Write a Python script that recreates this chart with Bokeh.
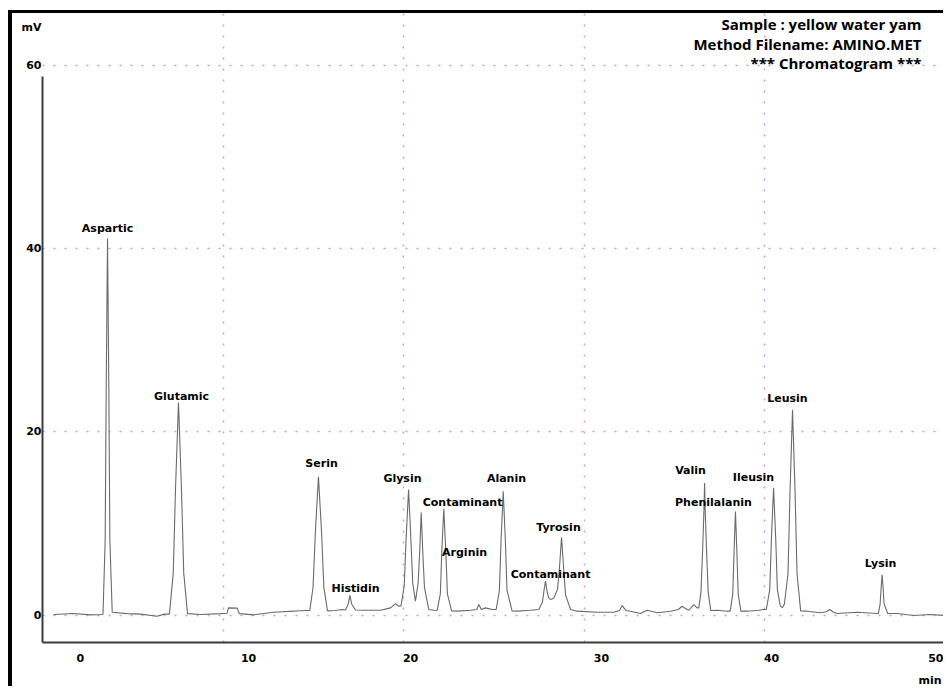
from bokeh.plotting import figure
from bokeh.models import ColumnDataSource, FixedTicker, LinearAxis, Range1d, Label
from bokeh.core.properties import value
from bokeh.embed import file_html
from bokeh.resources import INLINE

# ---- chromatogram trace (retention time [min], signal [mV]) ----
trace_time = [
    0.61, 1.72, 2.66,
    3.35, 3.47, 3.527, 3.60, 3.673, 3.73, 3.86,
    4.69, 5.43, 6.35, 6.75,
    7.03, 7.24, 7.367, 7.53, 7.693, 7.82, 8.03,
    8.75, 9.86, 10.22, 10.30, 10.78, 10.90, 11.70, 12.81, 13.92, 14.50,
    14.80, 14.98, 15.11, 15.28, 15.45, 15.58, 15.78,
    16.20, 16.60,
    16.78, 16.93, 17.02, 17.12, 17.33,
    17.79, 18.72, 19.27, 19.55, 19.73,
    19.85, 20.03, 20.13, 20.27, 20.40, 20.50, 20.65,
    20.80, 20.88, 20.97, 21.06, 21.15, 21.39,
    21.67,
    21.85, 22.03, 22.11, 22.22, 22.33, 22.42, 22.65,
    22.96, 23.70, 24.05, 24.16, 24.30, 24.53, 24.90,
    25.12, 25.30, 25.39, 25.51, 25.63, 25.72, 26.00,
    26.28, 27.02,
    27.48, 27.68, 27.77, 27.85, 27.94, 28.02, 28.13,
    28.30, 28.52, 28.63, 28.74, 28.85, 28.96, 29.24,
    29.60, 30.71, 31.63, 31.95, 32.10, 32.30, 32.56, 33.11, 33.48, 34.04,
    34.77, 35.20, 35.42, 35.60, 35.79, 36.06, 36.25,
    36.34, 36.46, 36.55, 36.63, 36.66, 36.69, 36.77, 36.86, 37.00,
    37.36, 37.91,
    38.08, 38.22, 38.29, 38.37, 38.45, 38.52, 38.67,
    39.02, 39.66, 39.94,
    40.08, 40.27, 40.36, 40.48, 40.60, 40.69, 40.85, 40.97,
    41.08, 41.28, 41.39, 41.53, 41.67, 41.78, 41.98,
    42.34, 43.08, 43.40, 43.59, 43.80, 44.00, 45.11, 46.22,
    46.28, 46.38, 46.43, 46.49, 46.55, 46.60, 46.80,
    47.33, 48.25, 49.17, 50.00,
]
trace_mv = [
    0.05, 0.16, 0.02,
    0.05, 8.2, 24.7, 41.1, 24.7, 8.2, 0.30,
    0.15, 0.10, -0.13, 0.10,
    0.10, 4.6, 13.9, 23.2, 13.9, 4.6, 0.15,
    0.05, 0.15, 0.20, 0.78, 0.75, 0.15, 0.02, 0.30, 0.42, 0.50,
    0.50, 3.0, 9.1, 15.1, 9.1, 3.0, 0.45,
    0.50, 0.60,
    0.55, 1.2, 2.15, 1.2, 0.55,
    0.52, 0.52, 0.78, 1.25, 0.96,
    1.0, 3.2, 8.2, 13.7, 8.2, 3.5, 1.5,
    3.5, 6.7, 11.2, 6.7, 3.0, 0.60,
    0.52,
    0.50, 2.3, 7.0, 11.6, 7.0, 2.3, 0.45,
    0.42, 0.52, 0.60, 1.14, 0.60, 0.78, 0.60,
    0.60, 2.7, 8.1, 13.5, 8.1, 2.7, 0.45,
    0.42, 0.52,
    0.60, 1.4, 2.7, 3.7, 2.6, 1.9, 1.7,
    1.8, 2.8, 5.3, 8.5, 5.3, 2.2, 0.60,
    0.42, 0.30, 0.30, 0.50, 1.03, 0.50, 0.42, 0.16, 0.52, 0.24,
    0.42, 0.60, 0.96, 0.70, 0.52, 1.14, 0.78,
    0.78, 2.5, 7.0, 11.7, 14.4, 11.7, 7.0, 2.5, 0.50,
    0.52, 0.42,
    0.42, 2.3, 6.8, 11.3, 6.8, 2.3, 0.42,
    0.42, 0.52, 0.60,
    0.60, 2.8, 8.3, 13.9, 8.3, 2.8, 1.0, 0.80,
    1.2, 4.5, 13.4, 22.4, 13.4, 4.5, 0.45,
    0.42, 0.24, 0.35, 0.60, 0.30, 0.16, 0.30, 0.16,
    0.16, 1.2, 2.8, 4.4, 2.8, 1.2, 0.16,
    0.16, -0.05, 0.05, -0.05,
]

# ---- peak annotations ----
peak_names = ["Aspartic", "Glutamic", "Serin", "Histidin", "Glysin", "Contaminant",
              "Arginin", "Alanin", "Contaminant", "Tyrosin", "Valin", "Phenilalanin",
              "Ileusin", "Leusin", "Lysin"]
label_time = [3.60, 7.70, 15.45, 17.33, 19.93, 23.26, 23.37, 25.69, 28.13, 28.57,
              35.88, 37.15, 39.37, 41.25, 46.40]
label_mv = [42.24, 23.82, 16.51, 2.89, 14.88, 12.26, 6.81, 14.88, 4.41, 9.54,
            15.75, 12.26, 14.99, 23.60, 5.61]

# ---- axes / header texts ----
x_tick_labels = ["0", "10", "20", "30", "40", "50"]
x_tick_pos = [2.10, 11.41, 20.38, 30.95, 40.37, 49.60]
x_unit_label = "min"
x_unit_pos = 49.36
y_ticks = [0, 20, 40, 60]
y_unit_label = "mV"
y_unit_pos = 64.1
x_grid = [10, 20, 30, 40]
header_lines = ["Sample : yellow water yam", "Method Filename: AMINO.MET",
                "*** Chromatogram ***"]
header_mv = [64.54, 62.37, 60.25]
header_time = 48.67

X_START, X_END = 0.0, 50.0
Y_START, Y_END = -3.0, 65.67
Y_PLOT_TOP = 61.85      # top of the drawn plot box (right border)
Y_AXIS_TOP = 58.8       # top of the visible y axis line

BOLD_FONT = "DejaVu Sans"

p = figure(width=935, height=676, x_range=Range1d(X_START, X_END),
           y_range=Range1d(Y_START, Y_END),
           output_backend="svg", toolbar_location=None,
           min_border_left=30, min_border_right=2, min_border_top=0, min_border_bottom=46)
p.styles = {"border-top": "3px solid black", "border-left": "4px solid black",
            "margin-top": "10px", "margin-left": "8px"}
p.outline_line_color = None
p.background_fill_color = "white"
p.border_fill_color = "white"

# grid
p.xgrid.ticker = FixedTicker(ticks=x_grid)
p.ygrid.ticker = FixedTicker(ticks=y_ticks)
for g in (p.xgrid, p.ygrid):
    g.grid_line_color = "#dc94d2"
    g.grid_line_dash = "2 9"
    g.grid_line_width = 1.5


def style_labels(ax, size="11px"):
    ax.major_tick_in = 0
    ax.major_tick_out = 0
    ax.minor_tick_line_color = None
    ax.major_tick_line_color = None
    ax.major_label_text_font = BOLD_FONT
    ax.major_label_text_font_style = "bold"
    ax.major_label_text_font_size = size
    ax.major_label_text_color = "black"


# main x axis (line + numbers)
xa = p.below[0]
xa.ticker = FixedTicker(ticks=x_tick_pos)
xa.major_label_overrides = {pos: lab for pos, lab in zip(x_tick_pos, x_tick_labels)}
xa.axis_line_color = "#3c3c3c"
xa.axis_line_width = 2
style_labels(xa)
xa.major_label_standoff = 11

# unit label under the x axis
xu = LinearAxis(ticker=FixedTicker(ticks=[x_unit_pos]), axis_line_color=None,
                major_label_overrides={x_unit_pos: x_unit_label})
style_labels(xu)
xu.major_label_standoff = 9
p.add_layout(xu, "below")

# y axis: line only (nearest the plot)
ya = p.left[0]
ya.ticker = FixedTicker(ticks=[])
ya.bounds = (Y_START, Y_AXIS_TOP)
ya.axis_line_color = "#3c3c3c"
ya.axis_line_width = 2
style_labels(ya, "0px")
ya.major_label_standoff = 0

# y axis numbers and unit
y_label_ticks = y_ticks + [y_unit_pos]
yl = LinearAxis(ticker=FixedTicker(ticks=y_label_ticks), axis_line_color=None,
                major_label_overrides={y_unit_pos: y_unit_label})
style_labels(yl)
yl.major_label_standoff = 1
p.add_layout(yl, "left")

# right border of the plot box
right_axis = LinearAxis(ticker=FixedTicker(ticks=[]), axis_line_color="#777777",
                        axis_line_width=1, bounds=(Y_START, Y_PLOT_TOP))
style_labels(right_axis, "0px")
right_axis.major_label_standoff = 0
p.add_layout(right_axis, "right")

# chromatogram trace
p.line(trace_time, trace_mv, line_color="#6a6a6a", line_width=1.1)

# peak names
src = ColumnDataSource(dict(t=label_time, mv=label_mv, name=peak_names))
p.text(x="t", y="mv", text="name", source=src, text_font=value(BOLD_FONT),
       text_font_style="bold", text_font_size="11px", text_align="center",
       text_baseline="middle", text_color="black")

# header (top-right)
for line, mv in zip(header_lines, header_mv):
    p.add_layout(Label(x=header_time, y=mv, text=line, text_align="right",
                       text_baseline="middle", text_font="Open Sans",
                       text_font_style="bold", text_font_size="15px",
                       text_color="black"))

open("out.html", "w").write(file_html(p, INLINE))
